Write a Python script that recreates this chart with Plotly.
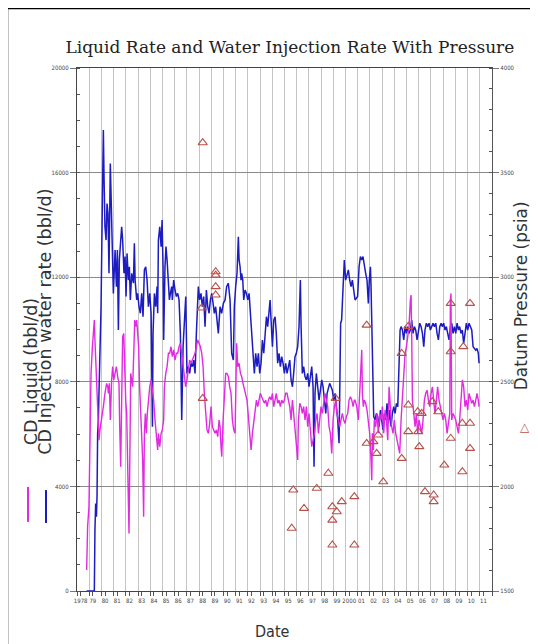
import plotly.graph_objects as go

# ---------------- data ----------------
inj_year = [1978.79, 1979.42, 1979.47, 1979.53, 1979.59, 1979.64, 1979.69, 1979.75, 1979.80, 1979.88,
            1979.97, 1980.08, 1980.16, 1980.21, 1980.29, 1980.38, 1980.46, 1980.54, 1980.62, 1980.73,
            1980.79, 1980.84, 1980.90, 1980.98, 1981.12, 1981.23, 1981.31, 1981.39, 1981.47, 1981.58,
            1981.66, 1981.74, 1981.85, 1981.94, 1982.02, 1982.10, 1982.21, 1982.29, 1982.37, 1982.48,
            1982.62, 1982.70, 1982.76, 1982.89, 1982.97, 1983.08, 1983.19, 1983.30, 1983.41, 1983.52,
            1983.63, 1983.74, 1983.85, 1983.96, 1984.07, 1984.18, 1984.23, 1984.34, 1984.45, 1984.56,
            1984.61, 1984.67, 1984.78, 1984.89, 1984.97, 1985.05, 1985.10, 1985.21, 1985.29, 1985.38,
            1985.49, 1985.57, 1985.65, 1985.76, 1985.81, 1985.92, 1986.03, 1986.14, 1986.25, 1986.36,
            1986.47, 1986.58, 1986.69, 1986.77, 1986.85, 1986.91, 1986.96, 1987.01, 1987.12, 1987.23,
            1987.34, 1987.45, 1987.56, 1987.67, 1987.78, 1987.89, 1987.94, 1988.05, 1988.16, 1988.27,
            1988.38, 1988.49, 1988.60, 1988.71, 1988.82, 1988.93, 1989.04, 1989.15, 1989.25, 1989.36,
            1989.47, 1989.58, 1989.72, 1989.85, 1989.99, 1990.13, 1990.26, 1990.40, 1990.54, 1990.67,
            1990.81, 1990.89, 1991.00, 1991.11, 1991.22, 1991.28, 1991.36, 1991.44, 1991.49, 1991.58,
            1991.66, 1991.77, 1991.88, 1991.99, 1992.10, 1992.20, 1992.31, 1992.42, 1992.53, 1992.64,
            1992.75, 1992.86, 1992.97, 1993.08, 1993.19, 1993.30, 1993.41, 1993.52, 1993.62, 1993.73,
            1993.82, 1993.90, 1994.01, 1994.12, 1994.23, 1994.33, 1994.44, 1994.55, 1994.66, 1994.77,
            1994.88, 1994.99, 1995.10, 1995.21, 1995.32, 1995.43, 1995.54, 1995.65, 1995.75, 1995.86,
            1995.97, 1996.08, 1996.19, 1996.30, 1996.36, 1996.41, 1996.46, 1996.57, 1996.68, 1996.79,
            1996.90, 1997.01, 1997.12, 1997.23, 1997.34, 1997.42, 1997.50, 1997.61, 1997.72, 1997.83,
            1997.94, 1998.05, 1998.16, 1998.27, 1998.38, 1998.49, 1998.59, 1998.70, 1998.81, 1998.92,
            1999.03, 1999.14, 1999.25, 1999.36, 1999.47, 1999.55, 1999.60, 1999.68, 1999.74, 1999.82,
            1999.90, 2000.01, 2000.12, 2000.23, 2000.34, 2000.45, 2000.56, 2000.67, 2000.78, 2000.99,
            2001.11, 2001.22, 2001.33, 2001.43, 2001.54, 2001.65, 2001.76, 2001.87, 2001.95, 2002.04,
            2002.09, 2002.20, 2002.31, 2002.42, 2002.53, 2002.64, 2002.75, 2002.86, 2002.96, 2003.07,
            2003.18, 2003.29, 2003.40, 2003.51, 2003.62, 2003.73, 2003.84, 2003.95, 2004.06, 2004.17,
            2004.28, 2004.38, 2004.47, 2004.55, 2004.66, 2004.77, 2004.88, 2004.99, 2005.09, 2005.20,
            2005.31, 2005.42, 2005.53, 2005.64, 2005.75, 2005.86, 2005.97, 2006.08, 2006.19, 2006.30,
            2006.41, 2006.51, 2006.62, 2006.73, 2006.84, 2006.95, 2007.06, 2007.17, 2007.28, 2007.39,
            2007.50, 2007.61, 2007.72, 2007.83, 2007.93, 2008.04, 2008.15, 2008.26, 2008.37, 2008.48,
            2008.59, 2008.70, 2008.81, 2008.92, 2009.03, 2009.14, 2009.25, 2009.35, 2009.46, 2009.57,
            2009.68, 2009.79, 2009.90, 2010.01, 2010.12, 2010.23, 2010.34, 2010.45, 2010.56, 2010.67,
            2010.77, 2010.88, 2010.94]
inj_rate = [0, 0, 2330, 3350, 2840, 3610, 6030, 6540, 7560, 9090,
            10870, 14950, 17630, 15970, 13930, 13420, 14820, 14440, 12150, 16350,
            15210, 13680, 12660, 11380, 13040, 11640, 13040, 9980, 12660, 13420,
            13930, 13420, 12150, 12790, 11260, 12910, 11890, 12400, 11130, 12150,
            11770, 13300, 11890, 11130, 11380, 10870, 10620, 11380, 10490, 12280,
            12400, 11890, 10870, 11380, 10620, 6280, 9850, 11380, 10870, 11640,
            10620, 13420, 13930, 13170, 14190, 12400, 9600, 12400, 13170, 12660,
            11890, 11130, 11380, 11640, 11130, 11890, 11510, 11260, 11380, 11130,
            9850, 6540, 9340, 10110, 11130, 11260, 9850, 8320, 8580, 8320,
            8710, 8580, 8830, 8320, 9850, 10870, 11640, 11130, 11380, 10870,
            11260, 10110, 11510, 10870, 10620, 11130, 11380, 11000, 10620, 10870,
            10360, 9850, 10870, 10620, 11000, 11130, 11640, 11770, 11130, 9090,
            8830, 10870, 11640, 12150, 13550, 12660, 12400, 11890, 12150, 11890,
            11130, 11510, 11380, 11130, 11380, 10620, 9850, 9090, 8320, 9090,
            8580, 9090, 8320, 8710, 9600, 9090, 9850, 10490, 10110, 10620,
            11130, 10360, 9340, 10360, 10490, 9850, 8710, 9090, 8580, 8960,
            8710, 8320, 8710, 8320, 8580, 8830, 8070, 7810, 8320, 8960,
            9090, 9340, 10110, 11890, 10110, 8580, 8320, 8580, 8200, 8070,
            8320, 7810, 8320, 8580, 7810, 4750, 7560, 8320, 7810, 7300,
            7680, 8070, 7810, 7300, 6790, 7560, 7810, 7940, 7810, 7680,
            7300, 7560, 7050, 6540, 5650, 7810, 10240, 10360, 11130, 12400,
            12660, 11890, 12150, 12280, 11890, 11640, 11890, 11380, 11130, 11260,
            12400, 12790, 12660, 12790, 12400, 12150, 11890, 11000, 11890, 12400,
            11640, 8830, 6670, 6540, 6790, 6670, 6280, 6920, 6540, 6160,
            6790, 6540, 7180, 6410, 6920, 6280, 6790, 7050, 6790, 7180,
            7050, 8830, 9980, 10110, 9980, 9600, 10110, 9850, 10110, 9850,
            9980, 10360, 9850, 10110, 9980, 9600, 9980, 10240, 10110, 9850,
            9340, 9980, 10240, 10110, 10240, 9980, 10110, 10240, 10110, 10240,
            9850, 9600, 10110, 10240, 10110, 10240, 9980, 10110, 9850, 9600,
            10110, 10240, 9850, 10110, 9850, 10240, 9980, 10110, 9850, 9980,
            9470, 9850, 10240, 9980, 10240, 10110, 9980, 9340, 9280, 9210,
            9280, 9090, 8710]

liq_year = [1978.79, 1978.87, 1978.98, 1979.07, 1979.15, 1979.26, 1979.34, 1979.42, 1979.47, 1979.53,
            1979.61, 1979.69, 1979.80, 1979.88, 1980.02, 1980.16, 1980.29, 1980.43, 1980.52, 1980.57,
            1980.65, 1980.73, 1980.84, 1980.92, 1981.01, 1981.12, 1981.23, 1981.33, 1981.44, 1981.50,
            1981.58, 1981.66, 1981.74, 1981.83, 1981.91, 1981.99, 1982.07, 1982.15, 1982.26, 1982.35,
            1982.40, 1982.48, 1982.56, 1982.65, 1982.73, 1982.81, 1982.89, 1982.97, 1983.05, 1983.13,
            1983.22, 1983.30, 1983.38, 1983.46, 1983.52, 1983.60, 1983.68, 1983.76, 1983.85, 1983.96,
            1984.07, 1984.18, 1984.28, 1984.39, 1984.50, 1984.61, 1984.67, 1984.78, 1984.89, 1984.99,
            1985.10, 1985.16, 1985.27, 1985.38, 1985.49, 1985.59, 1985.70, 1985.81, 1985.92, 1986.03,
            1986.14, 1986.25, 1986.36, 1986.47, 1986.58, 1986.69, 1986.79, 1986.90, 1987.01, 1987.12,
            1987.23, 1987.34, 1987.45, 1987.56, 1987.67, 1987.78, 1987.89, 1988.00, 1988.11, 1988.22,
            1988.33, 1988.43, 1988.54, 1988.65, 1988.76, 1988.87, 1988.98, 1989.09, 1989.20, 1989.31,
            1989.42, 1989.53, 1989.64, 1989.72, 1989.80, 1989.86, 1989.97, 1990.07, 1990.18, 1990.29,
            1990.40, 1990.51, 1990.62, 1990.73, 1990.84, 1990.95, 1991.00, 1991.08, 1991.17, 1991.28,
            1991.39, 1991.49, 1991.60, 1991.71, 1991.82, 1991.93, 1992.04, 1992.15, 1992.26, 1992.37,
            1992.48, 1992.59, 1992.70, 1992.81, 1992.91, 1993.02, 1993.13, 1993.24, 1993.35, 1993.46,
            1993.57, 1993.68, 1993.79, 1993.90, 1994.01, 1994.12, 1994.23, 1994.33, 1994.44, 1994.55,
            1994.66, 1994.77, 1994.88, 1994.99, 1995.10, 1995.21, 1995.32, 1995.43, 1995.54, 1995.65,
            1995.75, 1995.86, 1995.97, 1996.08, 1996.14, 1996.25, 1996.36, 1996.46, 1996.57, 1996.68,
            1996.79, 1996.90, 1997.01, 1997.12, 1997.23, 1997.34, 1997.45, 1997.56, 1997.67, 1997.78,
            1997.88, 1997.99, 1998.10, 1998.21, 1998.32, 1998.43, 1998.54, 1998.65, 1998.76, 1998.87,
            1998.98, 1999.09, 1999.20, 1999.30, 1999.41, 1999.52, 1999.63, 1999.74, 1999.85, 1999.96,
            2000.07, 2000.18, 2000.29, 2000.40, 2000.51, 2000.62, 2000.72, 2000.78, 2000.92, 2001.05,
            2001.16, 2001.27, 2001.33, 2001.38, 2001.46, 2001.54, 2001.65, 2001.76, 2001.87, 2001.98,
            2002.09, 2002.15, 2002.20, 2002.28, 2002.36, 2002.47, 2002.58, 2002.69, 2002.80, 2002.91,
            2003.02, 2003.13, 2003.24, 2003.35, 2003.46, 2003.57, 2003.67, 2003.78, 2003.89, 2004.00,
            2004.11, 2004.22, 2004.33, 2004.44, 2004.55, 2004.66, 2004.77, 2004.88, 2004.99, 2005.09,
            2005.20, 2005.31, 2005.37, 2005.42, 2005.48, 2005.59, 2005.70, 2005.80, 2005.91, 2006.02,
            2006.13, 2006.24, 2006.35, 2006.46, 2006.57, 2006.68, 2006.79, 2006.90, 2007.01, 2007.12,
            2007.22, 2007.33, 2007.44, 2007.55, 2007.66, 2007.77, 2007.88, 2007.99, 2008.10, 2008.21,
            2008.32, 2008.43, 2008.54, 2008.59, 2008.64, 2008.70, 2008.81, 2008.92, 2009.03, 2009.14,
            2009.25, 2009.35, 2009.46, 2009.57, 2009.68, 2009.79, 2009.90, 2010.01, 2010.12, 2010.23,
            2010.34, 2010.45, 2010.56, 2010.67, 2010.77, 2010.88, 2010.94]
liq_rate = [800, 2460, 3220, 6030, 8320, 9340, 10110, 10360, 9600, 8830,
            7560, 6540, 5770, 6160, 6540, 7050, 7560, 7940, 7810, 7560,
            7940, 6540, 8070, 8580, 8070, 8320, 8580, 8200, 7940, 6280,
            4750, 7300, 9730, 9850, 7810, 7300, 6790, 5010, 2200, 6030,
            8320, 8070, 7810, 9090, 10360, 10110, 10360, 9850, 9340, 7810,
            6540, 5770, 5010, 2840, 6030, 6790, 6030, 6790, 7300, 7810,
            8070, 7680, 7300, 6540, 5770, 5390, 6030, 5520, 6030, 6160,
            6540, 7810, 8320, 8580, 9090, 9090, 9340, 8960, 9220, 8830,
            9090, 9090, 9340, 9470, 9090, 8580, 8200, 7810, 8070, 8580,
            8830, 8710, 8830, 8960, 9090, 9340, 9600, 9470, 9340, 9090,
            8580, 7560, 6790, 6160, 6030, 6410, 7050, 6280, 6160, 6030,
            6160, 5900, 6540, 6280, 5520, 5140, 6540, 7560, 8320, 8320,
            8200, 7810, 7560, 6540, 6160, 6030, 7810, 9470, 8580, 8710,
            8320, 8200, 7940, 7680, 7560, 7300, 6670, 6030, 5390, 6030,
            6540, 7050, 7300, 7050, 7300, 7560, 7430, 7300, 7180, 7300,
            7050, 7300, 7430, 7300, 7560, 7050, 7300, 7560, 7180, 7300,
            7050, 7300, 7180, 7300, 7560, 7560, 7300, 7050, 6540, 7300,
            6790, 6280, 5770, 5010, 6540, 7180, 7050, 6790, 7050, 6540,
            7050, 6280, 6790, 6030, 5520, 5770, 6030, 6540, 6790, 6030,
            6540, 7050, 6790, 7300, 7560, 7300, 7050, 6280, 6030, 5260,
            6540, 7050, 7300, 6790, 6540, 6280, 6540, 6790, 6540, 6410,
            6670, 6790, 7300, 7430, 7300, 7050, 7300, 7300, 7050, 6540,
            7560, 9090, 9220, 7560, 7050, 7300, 7180, 6920, 6540, 6030,
            5010, 4240, 6030, 5390, 6540, 6280, 6790, 6030, 6790, 6540,
            7050, 6030, 6920, 6540, 5770, 7810, 7050, 6280, 6030, 6540,
            6030, 5770, 5520, 5260, 6540, 7560, 8070, 9090, 9340, 9850,
            10110, 11130, 11320, 9850, 7300, 6790, 6280, 6790, 6030, 6540,
            6280, 6030, 6540, 7300, 7560, 7680, 7300, 7050, 7560, 7810,
            7300, 6790, 7300, 7810, 7300, 7050, 6670, 6540, 6790, 6540,
            6030, 6540, 6790, 11130, 11380, 6540, 6790, 6670, 6540, 6280,
            6030, 6540, 7300, 8070, 7810, 7050, 7300, 6920, 7560, 7300,
            7180, 7300, 7050, 7300, 7560, 7300, 7050]

press_year = [1988.22, 1988.30, 1988.30, 1989.36, 1989.36, 1989.36, 1989.36, 1995.59, 1995.72, 1996.60,
              1997.64, 1998.59, 1998.92, 1998.92, 1998.92, 1999.19, 1999.28, 1999.69, 2000.72, 2000.72,
              2001.73, 2001.73, 2002.28, 2002.55, 2002.68, 2003.09, 2004.60, 2004.60, 2005.14, 2005.14,
              2005.14, 2005.91, 2005.96, 2006.04, 2006.24, 2006.51, 2007.11, 2007.22, 2007.22, 2007.60,
              2008.09, 2008.62, 2008.62, 2008.62, 2009.57, 2009.57, 2009.65, 2010.20, 2010.20, 2010.20]
press_psia = [2853, 3643, 2421, 3026, 3010, 2955, 2915, 1800, 1983, 1895,
              1991, 2063, 1903, 1839, 1720, 2421, 1879, 1927, 1951, 1720,
              2771, 2206, 2214, 2158, 2246, 2022, 2636, 2134, 2389, 2262,
              2765, 2357, 2262, 2190, 2349, 1975, 2405, 1959, 1927, 2357,
              2102, 2875, 2644, 2230, 2302, 2070, 2668, 2875, 2302, 2182]

tick_years = list(range(1978, 2012))
tick_text = ["1978", "79", "80", "81", "82", "83", "84", "85", "86", "87", "88", "89",
             "90", "91", "92", "93", "94", "95", "96", "97", "98", "99", "2000",
             "01", "02", "03", "04", "05", "06", "07", "08", "09", "10", "11"]
left_ticks = [0, 4000, 8000, 12000, 16000, 20000]
right_ticks = [1500, 2000, 2500, 3000, 3500, 4000]

BLUE = "#1c1cc0"
MAGENTA = "#e22ae2"
TRI = "#b8504a"
TICKFONT = dict(family="Liberation Sans Narrow, DejaVu Sans Condensed, Arial Narrow, sans-serif",
                size=6, color="#444")

fig = go.Figure()
fig.add_trace(go.Scatter(x=inj_year, y=inj_rate, mode="lines", name="CD Injection water rate (bbl/d)",
                         line=dict(color=BLUE, width=1.5)))
fig.add_trace(go.Scatter(x=liq_year, y=liq_rate, mode="lines", name="CD Liquid (bbl/d)",
                         line=dict(color=MAGENTA, width=1.4)))
fig.add_trace(go.Scatter(x=press_year, y=press_psia, mode="markers", name="Datum Pressure (psia)",
                         yaxis="y2",
                         marker=dict(symbol="triangle-up-open", size=8, color=TRI,
                                     line=dict(width=1.1, color=TRI))))

# the page body adds an 8px offset, so the figure is sized to the visible 530x636 area
fig.update_layout(
    width=530, height=636,
    margin=dict(l=69, r=46, t=60, b=53),
    paper_bgcolor="white", plot_bgcolor="white",
    showlegend=False,
    title=dict(text="Liquid Rate and Water Injection Rate With Pressure",
               xref="paper", x=0.513, xanchor="center",
               yref="container", y=1 - 39 / 636, yanchor="middle",
               font=dict(family="DejaVu Serif, Liberation Serif, serif", size=17, color="#222")),
    xaxis=dict(range=[1978, 2012], tickvals=[y + 0.3 for y in tick_years], ticktext=tick_text,
               showgrid=False, ticks="outside", ticklen=4, tickcolor="#555", tickangle=0,
               tickfont=TICKFONT, showline=True, linecolor="#444", linewidth=1.2, mirror=True,
               zeroline=False, automargin=False,
               minor=dict(tick0=1978, dtick=1, showgrid=True, gridcolor="#c4c4c4", gridwidth=1,
                          ticks="outside", ticklen=4, tickcolor="#555")),
    yaxis=dict(range=[0, 20000], tickvals=left_ticks, ticktext=[str(v) for v in left_ticks],
               showgrid=True, gridcolor="#8a8a8a", gridwidth=1.4,
               ticks="outside", ticklen=6, tickcolor="#777", tickfont=TICKFONT,
               showline=True, linecolor="#444", linewidth=1.2, zeroline=False, automargin=False,
               minor=dict(dtick=1000, ticks="inside", ticklen=3, tickcolor="#555", showgrid=False)),
    yaxis2=dict(range=[1500, 4000], tickvals=right_ticks, ticktext=[str(v) for v in right_ticks],
                overlaying="y", side="right", showgrid=False,
                ticks="outside", ticklen=6, tickcolor="#777", tickfont=TICKFONT,
                showline=True, linecolor="#555", linewidth=1.2, zeroline=False, automargin=False,
                minor=dict(dtick=100, ticks="inside", ticklen=3, tickcolor="#555")),
)

AXFONT = dict(family="DejaVu Sans, Verdana, sans-serif", size=17.5, color="#333")
fig.add_annotation(text="CD Liquid (bbl/d)", textangle=-90, xref="paper", yref="paper",
                   x=-0.111, y=0.42, xanchor="center", yanchor="middle", showarrow=False, font=AXFONT)
fig.add_annotation(text="CD Injection water rate (bbl/d)", textangle=-90, xref="paper", yref="paper",
                   x=-0.0771, y=0.515, xanchor="center", yanchor="middle", showarrow=False, font=AXFONT)
fig.add_annotation(text="Datum Pressure (psia)", textangle=-90, xref="paper", yref="paper",
                   x=1.0705, y=0.564, xanchor="center", yanchor="middle", showarrow=False,
                   font=dict(family="DejaVu Sans, Verdana, sans-serif", size=17, color="#333"))
fig.add_annotation(text="△", xref="paper", yref="paper", x=1.0795, y=0.3136,
                   xanchor="center", yanchor="middle", showarrow=False,
                   font=dict(family="DejaVu Sans, sans-serif", size=12, color=TRI))
fig.add_annotation(text="Date", xref="paper", yref="paper", x=0.47, y=-0.078,
                   xanchor="center", yanchor="middle", showarrow=False,
                   font=dict(family="Liberation Sans Narrow, DejaVu Sans Condensed, sans-serif",
                             size=16, color="#333"))

# legend sample strokes beside the rotated axis titles
fig.add_shape(type="line", xref="paper", yref="paper", x0=-0.118, x1=-0.118, y0=0.132, y1=0.199,
              line=dict(color=MAGENTA, width=2))
fig.add_shape(type="line", xref="paper", yref="paper", x0=-0.0747, x1=-0.0747, y0=0.130, y1=0.193,
              line=dict(color=BLUE, width=2))
# outer frame
fig.add_shape(type="rect", xref="paper", yref="paper", x0=-0.1687, x1=1.098, y0=-0.2, y1=1.1147,
              line=dict(color="black", width=2.5), fillcolor="rgba(0,0,0,0)", layer="above")

fig.write_html("out.html")
